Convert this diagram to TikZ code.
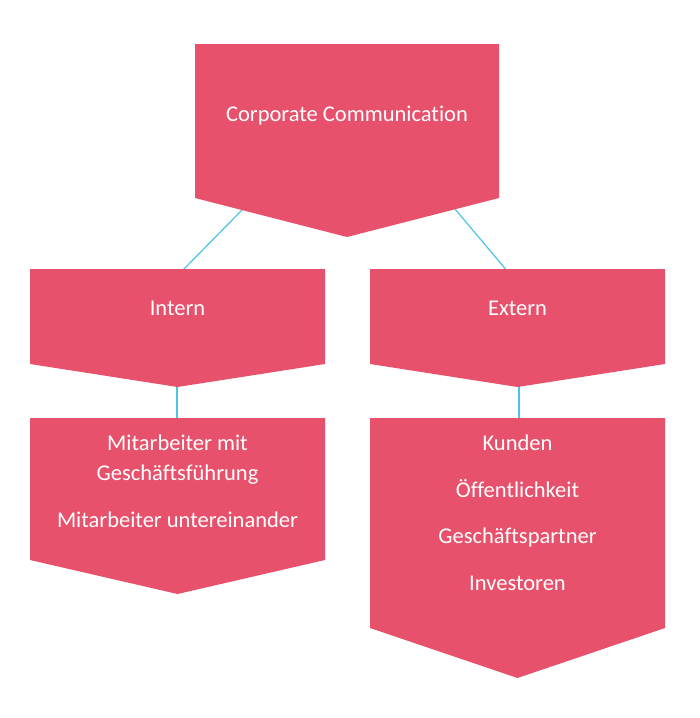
\documentclass[tikz,border=0pt]{standalone}
\usepackage{fontspec}
\setmainfont{Carlito}[Ligatures=NoCommon]
\definecolor{boxred}{HTML}{E8516C}
\definecolor{linkblue}{HTML}{4CC4EA}
\begin{document}
\begin{tikzpicture}[x=1pt,y=-1pt,
  chev/.style={fill=boxred},
  lbl/.style={text=white, font=\fontsize{22.5}{27}\selectfont, anchor=base, inner sep=0pt},
  link/.style={draw=linkblue, line width=1.2pt}]
\useasboundingbox[fill=white] (0,0) rectangle (700,718);
% connector end points
\coordinate (cc-l) at (242,210);
\coordinate (cc-r) at (455,209);
\coordinate (in-t) at (181,272);
\coordinate (ex-t) at (508,272);
\coordinate (in-b) at (177,385);
\coordinate (mi-t) at (177,420);
\coordinate (ex-b) at (519,385);
\coordinate (ku-t) at (519,420);
% connectors (behind shapes)
\draw[link] (cc-l) -- (in-t);
\draw[link] (cc-r) -- (ex-t);
\draw[link] (in-b) -- (mi-t);
\draw[link] (ex-b) -- (ku-t);
% shapes
\fill[chev] (195,44) -- (499,44) -- (499,198) -- (347,237) -- (195,198) -- cycle;
\fill[chev] (30,269) -- (325,269) -- (325,364) -- (177.5,387) -- (30,364) -- cycle;
\fill[chev] (370,269) -- (665,269) -- (665,364) -- (517.5,387) -- (370,364) -- cycle;
\fill[chev] (30,418) -- (325,418) -- (325,560) -- (177.5,594) -- (30,560) -- cycle;
\fill[chev] (370,418) -- (665,418) -- (665,628) -- (517.5,678) -- (370,628) -- cycle;
% texts
\node[lbl] (cc) at (347,121) {Corporate Communication};
\node[lbl] (intern) at (177.5,315) {Intern};
\node[lbl] (extern) at (517.5,315) {Extern};
\node[lbl] (mi1) at (177.5,450) {Mitarbeiter mit};
\node[lbl] (mi2) at (177.5,480) {Geschäftsführung};
\node[lbl] (mi3) at (177.5,527) {Mitarbeiter untereinander};
\node[lbl] (ku) at (517.5,450) {Kunden};
\node[lbl] (oe) at (517.5,497) {Öffentlichkeit};
\node[lbl] (gp) at (517.5,543) {Geschäftspartner};
\node[lbl] (iv) at (517.5,590) {Investoren};
\end{tikzpicture}
\end{document}
